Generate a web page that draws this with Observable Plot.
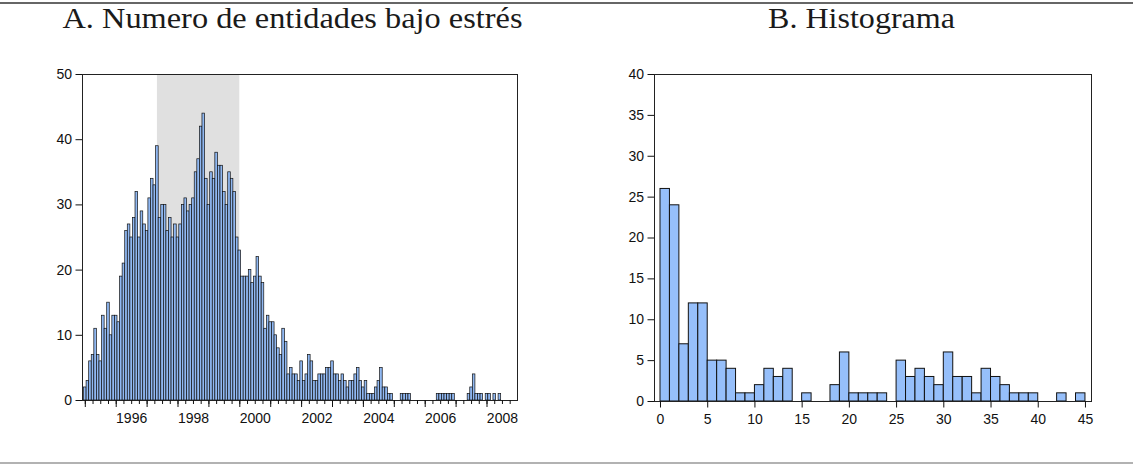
<!DOCTYPE html>
<html>
<head>
<meta charset="utf-8">
<script src="https://cdn.jsdelivr.net/npm/d3@7"></script>
<script src="https://cdn.jsdelivr.net/npm/@observablehq/plot@0.6"></script>
<style>
  html, body { margin: 0; padding: 0; background: #fff; }
  #page { position: relative; width: 1133px; height: 466px; overflow: hidden; background: #fff; }
  .panel { position: absolute; top: 40px; }
  #overlay { position: absolute; left: 0; top: 0; pointer-events: none; }
</style>
</head>
<body>
<div id="page">
  <div id="left" class="panel" style="left:0px"></div>
  <div id="right" class="panel" style="left:566px"></div>
  <svg id="overlay" width="1133" height="466">
    <line x1="0" x2="1133" y1="3" y2="3" stroke="#333" stroke-width="1.6"></line>
    <line x1="0" x2="1133" y1="463" y2="463" stroke="#999" stroke-width="1.6"></line>
    <text id="titleA" x="292.5" y="28" text-anchor="middle" font-family="Liberation Serif, serif" font-size="30" fill="#1a1a1a" textLength="460" lengthAdjust="spacingAndGlyphs"></text>
    <text id="titleB" x="861.5" y="28" text-anchor="middle" font-family="Liberation Serif, serif" font-size="30" fill="#1a1a1a" textLength="187" lengthAdjust="spacingAndGlyphs"></text>
  </svg>
</div>
<script>
// ---------- Panel A data: monthly number of entities under stress ----------
const titleA = "A. Numero de entidades bajo estrés";
const titleB = "B. Histograma";
const startYear = 1994;
const startMonth = 7; // first month of the series (July 1994)
const stressCounts = [
  2,3,6,7,11,7,6,13,11,15,
  10,13,13,12,19,21,26,27,25,28,
  32,25,29,27,26,31,34,33,39,28,
  30,30,26,28,25,27,25,27,30,31,
  29,30,31,35,37,42,44,34,30,35,
  34,38,36,36,32,30,35,34,32,25,
  23,19,19,19,20,18,19,22,19,18,
  11,13,12,12,10,8,7,11,9,4,
  5,4,4,3,6,3,4,7,6,3,
  3,4,4,4,5,5,6,4,4,3,
  4,3,2,3,3,4,5,3,2,3,
  1,1,1,2,3,5,2,2,1,1,
  0,0,0,1,1,1,1,0,0,0,
  0,0,0,0,0,0,0,1,1,1,
  1,1,1,1,0,0,0,0,0,1,
  2,4,1,1,1,0,1,1,0,1,
  0,1,0,0,0,0,0
];
const shadeStart = [1996, 11];
const shadeEnd = [1999, 7];
const yearLabels = [1996, 1998, 2000, 2002, 2004, 2006, 2008];
const yTicksA = [0, 10, 20, 30, 40, 50];

// ---------- Panel B data: histogram (bins of width 1) ----------
const histCounts = [
  26,24,7,12,12,5,5,4,1,1,
  2,4,3,4,0,1,0,0,2,6,
  1,1,1,1,0,5,3,4,3,2,
  6,3,3,1,4,3,2,1,1,1,
  0,0,1,0,1
];
const yTicksB = [0, 5, 10, 15, 20, 25, 30, 35, 40];
const xTicksB = [0, 5, 10, 15, 20, 25, 30, 35, 40, 45];

document.getElementById("titleA").textContent = titleA;
document.getElementById("titleB").textContent = titleB;

const toYear = (y, m) => y + (m - 1) / 12;
const t0 = toYear(startYear, startMonth);
const monthly = stressCounts.map((v, k) => ({t: t0 + k / 12, v})).filter(d => d.v > 0);
const shade = [{x1: toYear(...shadeStart), x2: toYear(...shadeEnd)}];
const quarterTicks = d3.range(1994.5, 2008.3, 0.25);
const majorTicks = d3.range(1994.5, 2008.0, 1);
const hist = histCounts.map((n, b) => ({b, n})).filter(d => d.n > 0);

const style = {
  fontFamily: '"Liberation Sans", Arial, Helvetica, sans-serif',
  fontSize: "14px",
  color: "#111",
  background: "none",
  overflow: "visible"
};
const blank = () => "";

const left = Plot.plot({
  width: 530, height: 390,
  marginLeft: 82, marginRight: 13, marginTop: 34, marginBottom: 30,
  style,
  x: {domain: [1994.409, 2008.487]},
  y: {domain: [0, 50]},
  marks: [
    Plot.rect(shade, {x1: "x1", x2: "x2", y1: 0, y2: 50, fill: "#e0e0e0"}),
    Plot.rect(monthly, {x1: d => d.t - 1/24, x2: d => d.t + 1/24, y1: 0, y2: "v",
      fill: "#90b8f2", stroke: "#111", strokeWidth: 0.7}),
    Plot.frame({stroke: "#222", strokeWidth: 1}),
    Plot.axisY({ticks: yTicksA, tickSize: 6.5, tickPadding: 4, label: null}),
    Plot.axisX({ticks: quarterTicks, tickSize: 4, tickFormat: blank, label: null}),
    Plot.axisX({ticks: majorTicks, tickSize: 7, tickFormat: blank, label: null}),
    Plot.axisX({ticks: yearLabels, tickSize: 0, tickPadding: 13, tickFormat: d => String(d), label: null})
  ]
});
document.getElementById("left").append(left);

const right = Plot.plot({
  width: 537, height: 390,
  marginLeft: 88, marginRight: 12, marginTop: 34, marginBottom: 29,
  style,
  x: {domain: [-0.635, 45.64]},
  y: {domain: [0, 40]},
  marks: [
    Plot.rect(hist, {x1: "b", x2: d => d.b + 1, y1: 0, y2: "n",
      fill: "#96bffa", stroke: "#111", strokeWidth: 1}),
    Plot.frame({stroke: "#222", strokeWidth: 1}),
    Plot.axisY({ticks: yTicksB, tickSize: 6.5, tickPadding: 4, label: null}),
    Plot.axisX({ticks: xTicksB, tickSize: 6.5, tickPadding: 6, tickFormat: d => String(d), label: null})
  ]
});
document.getElementById("right").append(right);
</script>
</body>
</html>
